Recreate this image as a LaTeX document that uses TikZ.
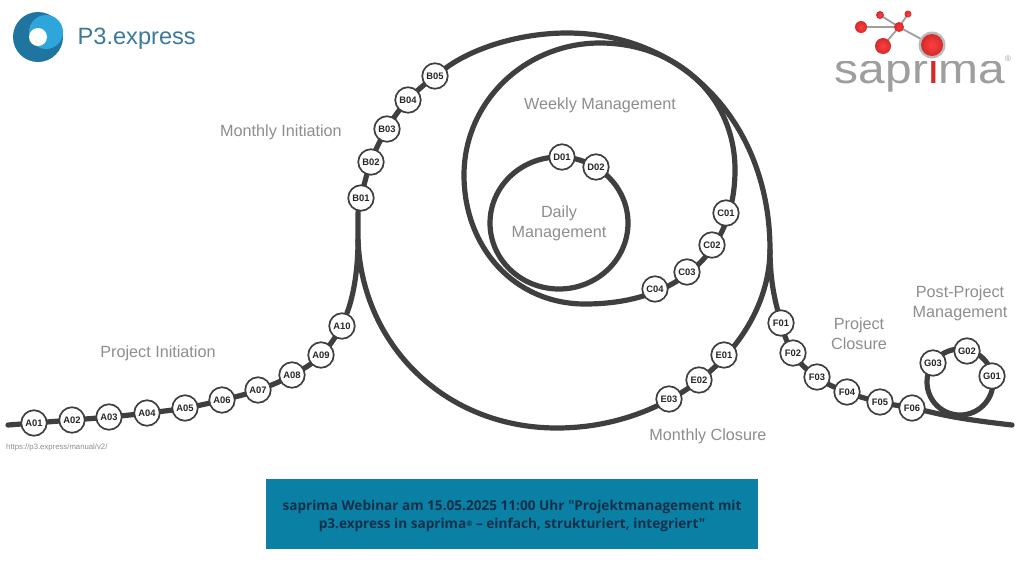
\documentclass[tikz,border=0pt]{standalone}
\usepackage{fontspec}
\setmainfont{Liberation Sans}
\newfontfamily\boxfont{Open Sans}
\pgfdeclarelayer{back}
\pgfsetlayers{back,main}
\definecolor{trackc}{HTML}{3F3F3F}
\definecolor{labelc}{HTML}{8E8E8E}
\definecolor{teal}{HTML}{0A80A5}
\definecolor{boxtext}{HTML}{12304A}
\definecolor{logodark}{HTML}{1F74A0}
\definecolor{logolight}{HTML}{2EA6DC}
\definecolor{logotext}{HTML}{3A7A9C}
\definecolor{sapgray}{HTML}{9E9E9E}
\definecolor{sapred}{HTML}{D42A2A}
\tikzset{
  stepnode/.style={circle,draw=trackc,fill=white,line width=1.7pt,minimum size=25.5pt,inner sep=0pt,
    font=\bfseries\fontsize{9.4}{10}\selectfont,text=black!85},
  track/.style={draw=trackc,line width=5.2pt,line cap=round,line join=round},
  lab/.style={text=labelc,align=center,inner sep=0pt,font=\fontsize{16.2}{20}\selectfont},
  ball/.style={circle,inner sep=0pt,shading=radial,inner color=#1,outer color=sapred},
  bond/.style={draw=sapgray,line width=1.8pt}
}
\begin{document}
\begin{tikzpicture}[x=1pt,y=-1pt]
\useasboundingbox (0,0) rectangle (1024,576);
\begin{pgfonlayer}{back}
\fill[white] (0,0) rectangle (1024,576);
\end{pgfonlayer}
% step nodes
\foreach \n/\x/\y in {A01/34/423,A02/72/420,A03/109/417,A04/147/413,A05/185/408,A06/222/400,A07/258/390,A08/292/375,A09/321/355,A10/342/326,
  B01/361/198,B02/371/162,B03/387/129,B04/408/100,B05/435/76,
  C01/726/213,C02/712/245,C03/687/272,C04/655/289,
  D01/562/157,D02/596/167,
  E01/724/355,E02/699/380,E03/669/399,
  F01/781/323,F02/793/353,F03/817/377,F04/847/392,F05/880/402,F06/912/408,
  G01/992/376,G02/967/351,G03/933/363}
  {\node[stepnode] (\n) at (\x,\y) {\n};}
\coordinate (dailyc) at (559,223);
\coordinate (postc) at (960,382);
\coordinate (splitl) at (358,240);
\coordinate (splitr) at (770,250);
\coordinate (topc) at (567,33);
\coordinate (botc) at (557,428);
\begin{pgfonlayer}{back}
% project initiation
\draw[track] plot[smooth,tension=0.8] coordinates {(8,425) (A01) (A02) (A03) (A04) (A05) (A06) (A07) (A08) (A09) (A10)};
\draw[track] (A10) .. controls (352,300) and (358,275) .. (splitl) .. controls (358,225) and (358,212) .. (B01);
% monthly initiation and over the top
\draw[track] plot[smooth,tension=0.8] coordinates {(B01) (B02) (B03) (B04) (B05)};
\draw[track] (B05) .. controls (473,48) and (520,33) .. (topc) .. controls (685,33) and (770,125) .. (splitr) .. controls (770,280) and (775,300) .. (F01);
% project closure and exit
\draw[track] plot[smooth,tension=0.8] coordinates {(F01) (F02) (F03) (F04) (F05) (F06) (960,418) (1012,425)};
% monthly closure and return
\draw[track] (splitr) .. controls (769,345) and (672,428) .. (botc) .. controls (445,428) and (362,345) .. (splitl);
% weekly loop
\draw[track] (600,43) .. controls (525,43) and (464,102) .. (464,175) .. controls (464,248) and (515,304) .. (585,304) .. controls (680,304) and (735,250) .. (735,170) .. controls (735,95) and (675,43) .. cycle;
% daily and post-project loops
\draw[track] (dailyc) ellipse [x radius=69pt,y radius=66pt];
\draw[track] (postc) circle [radius=33pt];
\end{pgfonlayer}
% labels
\node[lab] (l1) at (158,353.5) {Project Initiation};
\node[lab] (l2) at (281,132.5) {Monthly Initiation};
\node[lab] (l3) at (600,105.5) {Weekly Management};
\node[lab] (l4) at (559,223) {Daily\\Management};
\node[lab] (l5) at (708,436) {Monthly Closure};
\node[lab] (l6) at (859,334) {Project\\Closure};
\node[lab] (l7) at (960,303) {Post-Project\\Management};
\node[text=labelc,inner sep=0pt,anchor=west,font=\fontsize{7.75}{9}\selectfont] (url) at (6,447.5) {https://p3.express/manual/v2/};
% P3 logo
\fill[logodark] (38,37) circle [radius=25pt];
\fill[logolight] (46,32) circle [radius=17pt];
\fill[white] (38,37) circle [radius=9pt];
\node[text=logotext,anchor=west,inner sep=0pt,font=\fontsize{23.6}{26}\selectfont] (p3) at (77.5,38.5) {P3.express};
% saprima logo
\coordinate (hub) at (899,27);
\draw[bond] (hub) -- (861,27) (hub) -- (880,15) (hub) -- (908,14) (hub) -- (883,46) (hub) -- (932,45);
\fill[sapgray!70] (932,45) circle [radius=13.5pt];
\node[ball=red!75!white,minimum size=22pt] (s1) at (932,45) {};
\node[ball=red!75!white,minimum size=16pt] (s2) at (883,46) {};
\node[ball=red!75!white,minimum size=12pt] (s3) at (861,27) {};
\node[ball=red!80!white,minimum size=10pt] (s4) at (899,27) {};
\node[ball=red!75!white,minimum size=8pt] (s5) at (880,15) {};
\node[ball=red!75!white,minimum size=7pt] (s6) at (908,14) {};
\begin{scope}
\clip (825,61.5) rectangle (1015,100);
\node[anchor=base,inner sep=0pt,text=sapgray,xscale=1.14,font=\fontsize{42}{44}\selectfont] (sap) at (920,83) {sapr\textcolor{sapred}{i}ma};
\end{scope}
\node[text=sapgray,inner sep=0pt,font=\fontsize{8}{9}\selectfont] (reg) at (1008,59) {®};
% webinar box
\node[fill=teal,text=boxtext,align=center,inner sep=0pt,minimum width=492pt,minimum height=70pt] (box) at (512,514) {};
\node[text=boxtext,align=center,inner sep=0pt,font=\boxfont\bfseries\fontsize{13.6}{18.5}\selectfont] (boxlabel) at (512,516)
  {saprima Webinar am 15.05.2025 11:00 Uhr "Projektmanagement mit\\p3.express in saprima{\fontsize{7.5}{8}\selectfont\raisebox{2.5pt}{®}} – einfach, strukturiert, integriert"};
\end{tikzpicture}
\end{document}
